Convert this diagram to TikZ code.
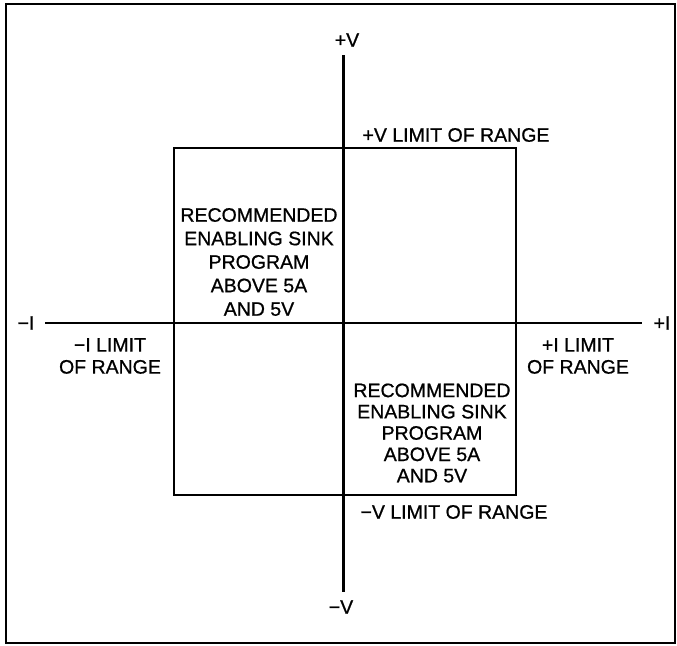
\documentclass[tikz,border=0pt]{standalone}
\usepackage{fontspec}
\setmainfont{Liberation Sans}[FakeBold=0.8]
\usetikzlibrary{positioning}

\tikzset{
  frameline/.style={line width=2.2pt},
  axisline/.style={line width=2.2pt},
  axislabel/.style={inner sep=0pt,font=\fontsize{19.5}{22}\selectfont},
  rangelabel/.style={inner sep=0pt,align=center,font=\fontsize{19.5}{22}\selectfont},
  sinkbox/.style={inner sep=0pt,align=center,font=\fontsize{19.5}{23.5}\selectfont}
}

\begin{document}
\begin{tikzpicture}[x=1pt,y=-1pt]
    \useasboundingbox (0,0) rectangle (677,645);
    % outer frame
    \draw[frameline] (6,4) rectangle (675,643);
    % limit of range
    \draw[frameline] (174,148) rectangle (516,495);
    % axes
    \coordinate (vtop) at (343.5,55);
    \coordinate (vbot) at (343.5,592);
    \coordinate (ileft) at (45,323);
    \coordinate (iright) at (642,323);
    \draw[axisline] (vtop) -- (vbot);
    \draw[axisline] (ileft) -- (iright);
    % axis labels
    \node[axislabel] (vplus) at (347,40) {+V};
    \node[axislabel] (vminus) at (341,607) {−V};
    \node[axislabel] (iminus) at (26,323) {−I};
    \node[axislabel] (iplus) at (662,323) {+I};
    % limits
    \node[axislabel] (vpluslim) at (456,135) {+V LIMIT OF RANGE};
    \node[axislabel] (vminuslim) at (454,512) {−V LIMIT OF RANGE};
    \node[rangelabel] (iminuslim) at (110,356) {−I LIMIT\\OF RANGE};
    \node[rangelabel] (ipluslim) at (578,356) {+I LIMIT\\OF RANGE};
    % sink regions
    \node[sinkbox] (sinkul) at (259,262)
      {RECOMMENDED\\ENABLING SINK\\PROGRAM\\ABOVE 5A\\AND 5V};
    \node[sinkbox,font=\fontsize{19.5}{21.3}\selectfont] (sinklr) at (432,433)
      {RECOMMENDED\\ENABLING SINK\\PROGRAM\\ABOVE 5A\\AND 5V};
\end{tikzpicture}
\end{document}
